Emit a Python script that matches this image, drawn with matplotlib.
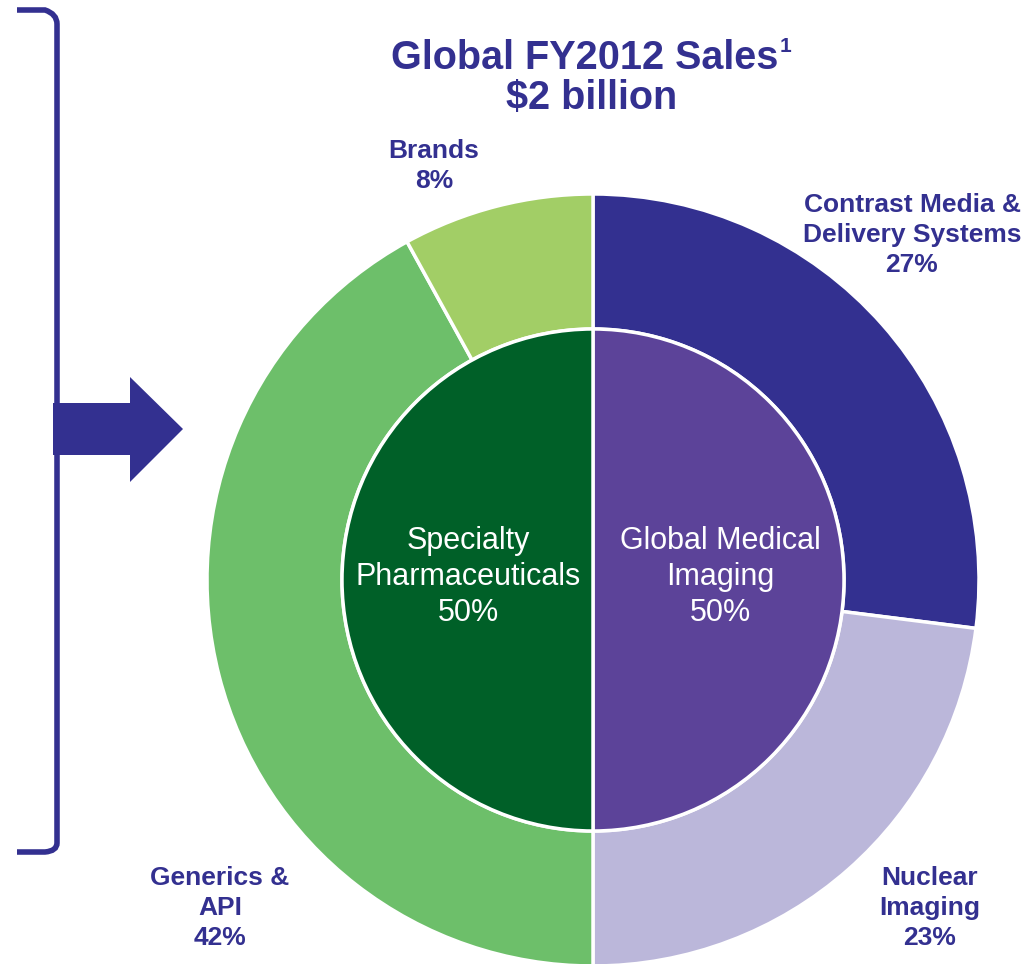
import matplotlib
matplotlib.use('Agg')
import matplotlib.pyplot as plt
import matplotlib.patches as patches
from matplotlib.path import Path

plt.rcParams['font.family'] = ['Liberation Sans', 'DejaVu Sans']

# Data
segments = ['Global Medical\nImaging', 'Specialty\nPharmaceuticals']
segment_share = [50, 50]
businesses = ['Contrast Media &\nDelivery Systems', 'Nuclear\nImaging', 'Generics &\nAPI', 'Brands']
business_share = [27, 23, 42, 8]

# Colors
c_navy = '#333090'
c_outer = ['#333090', '#BBB7DA', '#6DBF6A', '#A2CE66']
c_inner = ['#5C4399', '#006028']

W, H = 1036, 964


def Y(y):
    # pixel row (from top) -> data y
    return H - y


fig = plt.figure(figsize=(W / 100, H / 100), dpi=100)
ax = fig.add_axes([0, 0, 1, 1])

cx, cy = 593, Y(580)
r_out, r_in = 386, 251

ax.pie(business_share, startangle=90, counterclock=False, radius=r_out, center=(cx, cy),
       colors=c_outer, wedgeprops=dict(width=r_out - r_in, edgecolor='white', linewidth=2.5))
ax.pie(segment_share, startangle=90, counterclock=False, radius=r_in, center=(cx, cy),
       colors=c_inner, wedgeprops=dict(edgecolor='white', linewidth=2.5))

ax.set_xlim(0, W)
ax.set_ylim(0, H)
ax.set_aspect('equal')
ax.axis('off')

# Title
ax.text(585, Y(58), 'Global FY2012 Sales', ha='center', va='center', fontsize=28.5,
        fontweight='bold', color=c_navy)
ax.text(780, Y(47), '1', ha='left', va='center', fontsize=15, fontweight='bold', color=c_navy)
ax.text(592, Y(98), '$2 billion', ha='center', va='center', fontsize=28.5,
        fontweight='bold', color=c_navy)

# Outer labels
lab_kw = dict(ha='center', va='center', fontsize=19, fontweight='bold', color=c_navy,
              linespacing=1.34)
outer_pos = [(912, 235), (930, 908), (220, 908), (434, 166)]
for name, share, (x, y) in zip(businesses, business_share, outer_pos):
    ax.text(x, Y(y), f'{name}\n{share}%', **lab_kw)

# Inner labels
in_kw = dict(ha='center', va='center', fontsize=22, color='white', linespacing=1.27)
inner_pos = [(720, 577), (468, 577)]
for name, share, (x, y) in zip(segments, segment_share, inner_pos):
    ax.text(x, Y(y), f'{name}\n{share}%', **in_kw)

# Bracket on the left
verts = [(17, Y(10)), (45, Y(10)), (57, Y(14)), (57, Y(24)), (57, Y(843)),
         (57, Y(851)), (45, Y(852)), (17, Y(852))]
codes = [Path.MOVETO, Path.LINETO, Path.CURVE3, Path.CURVE3, Path.LINETO,
         Path.CURVE3, Path.CURVE3, Path.LINETO]
ax.add_patch(patches.PathPatch(Path(verts, codes), facecolor='none', edgecolor=c_navy,
                               linewidth=4, capstyle='butt'))

# Block arrow
arrow_pts = [(53, 403), (130, 403), (130, 377), (183, 429), (130, 482), (130, 455), (53, 455)]
ax.add_patch(patches.Polygon([(x, Y(y)) for x, y in arrow_pts], closed=True,
                             facecolor=c_navy, edgecolor='none'))

fig.savefig('out.png', dpi=100)
